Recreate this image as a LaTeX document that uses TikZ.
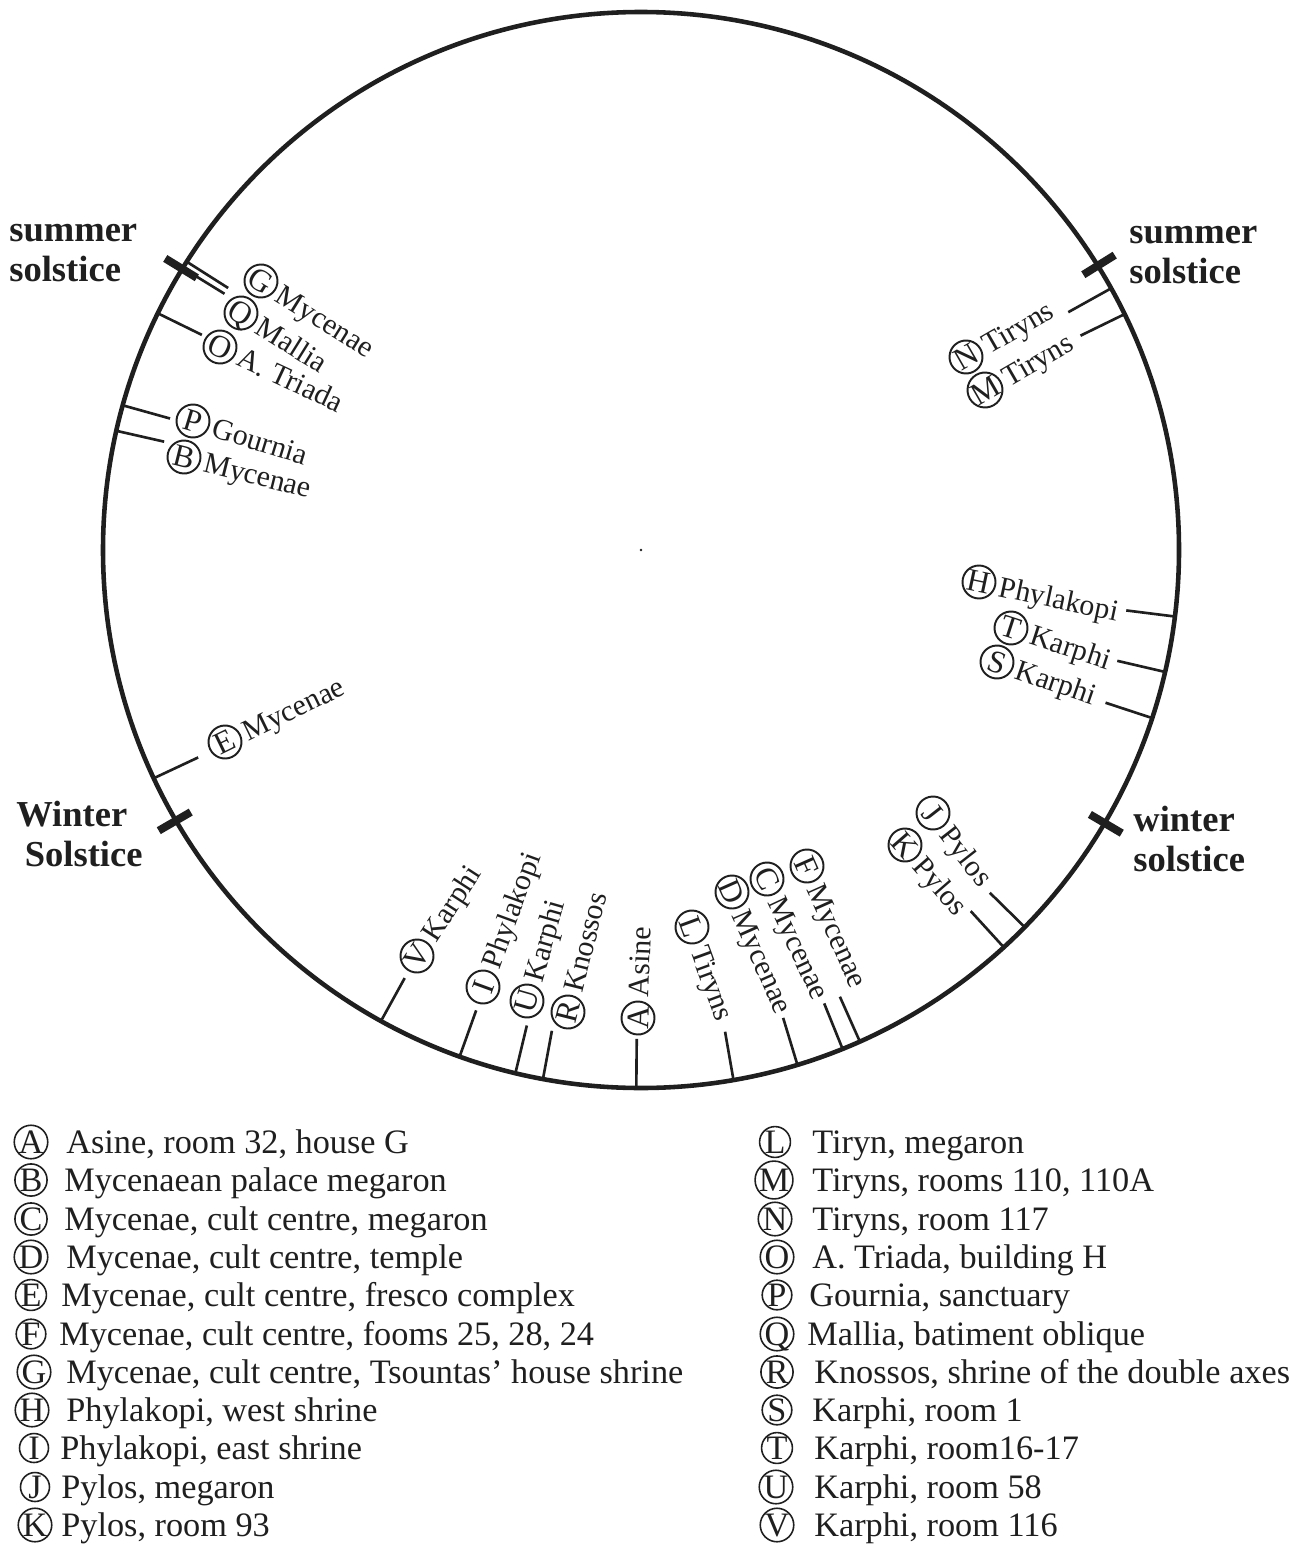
\documentclass[tikz,border=0pt]{standalone}
\usepackage{fontspec}
\setmainfont{Liberation Serif}
\usetikzlibrary{calc}

\newcommand{\dfont}{\fontsize{17}{20}\selectfont}
\newcommand{\cfont}{\fontsize{18}{20}\selectfont}
\newcommand{\lfont}{\fontsize{19.5}{22}\selectfont}
\newcommand{\sfont}{\fontsize{20.8}{22.7}\selectfont\bfseries}

\tikzstyle{dcirc}=[circle, draw, line width=1.1pt, minimum size=0.66cm, inner sep=0pt, font=\cfont, text height=11.9pt, text depth=0pt]
\tikzstyle{dlabel}=[anchor=west, inner sep=2pt, font=\dfont, text height=11.2pt, text depth=0pt]
\tikzstyle{lcirc}=[circle, draw, line width=0.9pt, minimum size=0.58cm, inner sep=0pt, font=\lfont, text height=12.9pt, text depth=0pt]
\tikzstyle{ltext}=[anchor=west, inner sep=0pt, font=\lfont, text height=12.9pt, text depth=0pt]
\tikzstyle{siteline}=[line width=1.5pt]
\tikzstyle{solbar}=[line width=4.5pt]
\tikzstyle{sol}=[font=\sfont, align=left, inner sep=0pt, anchor=base west]

\begin{document}
\begin{tikzpicture}[x=0.02cm, y=0.02cm, color=black!88]
\useasboundingbox (0,0) rectangle (1304,-1544);

\coordinate (C) at (641,-550);
\draw[line width=2.6pt] (C) circle (538);
\fill (C) circle (1.3);

% solstices
\draw[solbar] ($(C)+(148.5:521)$) -- ($(C)+(148.5:558)$);
\draw[solbar] ($(C)+(31.9:521)$) -- ($(C)+(31.9:558)$);
\draw[solbar] ($(C)+(329.5:521)$) -- ($(C)+(329.5:558)$);
\draw[solbar] ($(C)+(210.2:521)$) -- ($(C)+(210.2:558)$);
\node[sol] (sumL) at (9,-281) {summer\\solstice};
\node[sol] (sumR) at (1129,-283) {summer\\solstice};
\node[sol] (winL) at (16,-866) {Winter\\\hspace*{0.17cm}Solstice};
\node[sol] (winR) at (1133,-871) {winter\\solstice};

% sites on the circle
\draw[siteline] ($(C)+(147.6:538)$) coordinate (oG) -- ($(C)+(147.6:489)$) coordinate (iG);
\draw[siteline] ($(C)+(148.4:538)$) coordinate (oQ) -- ($(C)+(148.4:489)$) coordinate (iQ);
\draw[siteline] ($(C)+(153.9:538)$) coordinate (oO) -- ($(C)+(153.9:489)$) coordinate (iO);
\draw[siteline] ($(C)+(164.4:538)$) coordinate (oP) -- ($(C)+(164.4:489)$) coordinate (iP);
\draw[siteline] ($(C)+(167.2:538)$) coordinate (oB) -- ($(C)+(167.2:489)$) coordinate (iB);
\draw[siteline] ($(C)+(205.1:538)$) coordinate (oE) -- ($(C)+(205.1:489)$) coordinate (iE);
\draw[siteline] ($(C)+(241.1:538)$) coordinate (oV) -- ($(C)+(241.1:489)$) coordinate (iV);
\draw[siteline] ($(C)+(250.3:538)$) coordinate (oI) -- ($(C)+(250.3:489)$) coordinate (iI);
\draw[siteline] ($(C)+(256.5:538)$) coordinate (oU) -- ($(C)+(256.5:489)$) coordinate (iU);
\draw[siteline] ($(C)+(259.5:538)$) coordinate (oR) -- ($(C)+(259.5:489)$) coordinate (iR);
\draw[siteline] ($(C)+(269.5:538)$) coordinate (oA) -- ($(C)+(269.5:489)$) coordinate (iA);
\draw[siteline] ($(C)+(279.9:538)$) coordinate (oL) -- ($(C)+(279.9:489)$) coordinate (iL);
\draw[siteline] ($(C)+(286.9:538)$) coordinate (oD) -- ($(C)+(286.9:489)$) coordinate (iD);
\draw[siteline] ($(C)+(292:538)$) coordinate (oC) -- ($(C)+(292:489)$) coordinate (iC);
\draw[siteline] ($(C)+(294:538)$) coordinate (oF) -- ($(C)+(294:489)$) coordinate (iF);
\draw[siteline] ($(C)+(312.4:538)$) coordinate (oK) -- ($(C)+(312.4:489)$) coordinate (iK);
\draw[siteline] ($(C)+(315.5:538)$) coordinate (oJ) -- ($(C)+(315.5:489)$) coordinate (iJ);
\draw[siteline] ($(C)+(341.8:538)$) coordinate (oS) -- ($(C)+(341.8:489)$) coordinate (iS);
\draw[siteline] ($(C)+(346.9:538)$) coordinate (oT) -- ($(C)+(346.9:489)$) coordinate (iT);
\draw[siteline] ($(C)+(352.9:538)$) coordinate (oH) -- ($(C)+(352.9:489)$) coordinate (iH);
\draw[siteline] ($(C)+(26:538)$) coordinate (oM) -- ($(C)+(26:489)$) coordinate (iM);
\draw[siteline] ($(C)+(29.1:538)$) coordinate (oN) -- ($(C)+(29.1:489)$) coordinate (iN);

% labels
\node[dcirc, rotate=-32] (cG) at (261,-281) {G}; \node[dlabel, rotate=-32] (tG) at (cG.east) {Mycenae};
\node[dcirc, rotate=-32] (cQ) at (241,-313) {Q}; \node[dlabel, rotate=-32] (tQ) at (cQ.east) {Mallia};
\node[dcirc, rotate=-25] (cO) at (220,-347) {O}; \node[dlabel, rotate=-25] (tO) at (cO.east) {A. Triada};
\node[dcirc, rotate=-17] (cP) at (193,-421) {P}; \node[dlabel, rotate=-17] (tP) at (cP.east) {Gournia};
\node[dcirc, rotate=-14] (cB) at (184,-457) {B}; \node[dlabel, rotate=-14] (tB) at (cB.east) {Mycenae};
\node[dcirc, rotate=26] (cE) at (225,-742) {E}; \node[dlabel, rotate=26] (tE) at (cE.east) {Mycenae};
\node[dcirc, rotate=57] (cV) at (417,-956) {V}; \node[dlabel, rotate=57] (tV) at (cV.east) {Karphi};
\node[dcirc, rotate=70] (cI) at (483,-987) {I}; \node[dlabel, rotate=70] (tI) at (cI.east) {Phylakopi};
\node[dcirc, rotate=74] (cU) at (527,-1001) {U}; \node[dlabel, rotate=74] (tU) at (cU.east) {Karphi};
\node[dcirc, rotate=76] (cR) at (568,-1012) {R}; \node[dlabel, rotate=76] (tR) at (cR.east) {Knossos};
\node[dcirc, rotate=88] (cA) at (638,-1018) {A}; \node[dlabel, rotate=88] (tA) at (cA.east) {Asine};
\node[dcirc, rotate=-70] (cL) at (692,-927) {L}; \node[dlabel, rotate=-70] (tL) at (cL.east) {Tiryns};
\node[dcirc, rotate=-66] (cD) at (732,-892) {D}; \node[dlabel, rotate=-66] (tD) at (cD.east) {Mycenae};
\node[dcirc, rotate=-65] (cC) at (767,-879) {C}; \node[dlabel, rotate=-65] (tC) at (cC.east) {Mycenae};
\node[dcirc, rotate=-66] (cF) at (807,-866) {F}; \node[dlabel, rotate=-66] (tF) at (cF.east) {Mycenae};
\node[dcirc, rotate=-52] (cJ) at (933,-813) {J}; \node[dlabel, rotate=-52] (tJ) at (cJ.east) {Pylos};
\node[dcirc, rotate=-49] (cK) at (905,-845) {K}; \node[dlabel, rotate=-49] (tK) at (cK.east) {Pylos};
\node[dcirc, rotate=-12] (cH) at (979,-582) {H}; \node[dlabel, rotate=-12] (tH) at (cH.east) {Phylakopi};
\node[dcirc, rotate=-18] (cT) at (1011,-628) {T}; \node[dlabel, rotate=-18] (tT) at (cT.east) {Karphi};
\node[dcirc, rotate=-19] (cS) at (997,-662) {S}; \node[dlabel, rotate=-19] (tS) at (cS.east) {Karphi};
\node[dcirc, rotate=30] (cN) at (966,-357) {N}; \node[dlabel, rotate=30] (tN) at (cN.east) {Tiryns};
\node[dcirc, rotate=30] (cM) at (985,-390) {M}; \node[dlabel, rotate=30] (tM) at (cM.east) {Tiryns};

% legend
\node[lcirc] (lA) at (31,-1142) {A}; \node[ltext] (dA) at (66,-1142) {Asine, room 32, house G};
\node[lcirc] (lB) at (31,-1180) {B}; \node[ltext] (dB) at (64,-1180) {Mycenaean palace megaron};
\node[lcirc] (lC) at (31,-1219) {C}; \node[ltext] (dC) at (64,-1219) {Mycenae, cult centre, megaron};
\node[lcirc] (lD) at (31,-1257) {D}; \node[ltext] (dD) at (66,-1257) {Mycenae, cult centre, temple};
\node[lcirc] (lE) at (31,-1295) {E}; \node[ltext] (dE) at (61,-1295) {Mycenae, cult centre, fresco complex};
\node[lcirc] (lF) at (31,-1334) {F}; \node[ltext] (dF) at (59,-1334) {Mycenae, cult centre, fooms 25, 28, 24};
\node[lcirc] (lG) at (34,-1372) {G}; \node[ltext] (dG) at (66,-1372) {Mycenae, cult centre, Tsountas’ house shrine};
\node[lcirc] (lH) at (32,-1410) {H}; \node[ltext] (dH) at (66,-1410) {Phylakopi, west shrine};
\node[lcirc] (lI) at (34,-1448) {I}; \node[ltext] (dI) at (60,-1448) {Phylakopi, east shrine};
\node[lcirc] (lJ) at (35,-1487) {J}; \node[ltext] (dJ) at (61,-1487) {Pylos, megaron};
\node[lcirc] (lK) at (35,-1525) {K}; \node[ltext] (dK) at (61,-1525) {Pylos, room 93};

\node[lcirc] (lL) at (775,-1142) {L}; \node[ltext] (dL) at (812,-1142) {Tiryn, megaron};
\node[lcirc] (lM) at (774,-1180) {M}; \node[ltext] (dM) at (812,-1180) {Tiryns, rooms 110, 110A};
\node[lcirc] (lN) at (775,-1219) {N}; \node[ltext] (dN) at (812,-1219) {Tiryns, room 117};
\node[lcirc] (lO) at (777,-1257) {O}; \node[ltext] (dO) at (812,-1257) {A. Triada, building H};
\node[lcirc] (lP) at (777,-1295) {P}; \node[ltext] (dP) at (809,-1295) {Gournia, sanctuary};
\node[lcirc] (lQ) at (777,-1334) {Q}; \node[ltext] (dQ) at (807,-1334) {Mallia, batiment oblique};
\node[lcirc] (lR) at (777,-1372) {R}; \node[ltext] (dR) at (814,-1372) {Knossos, shrine of the double axes};
\node[lcirc] (lS) at (777,-1410) {S}; \node[ltext] (dS) at (812,-1410) {Karphi, room 1};
\node[lcirc] (lT) at (777,-1448) {T}; \node[ltext] (dT) at (814,-1448) {Karphi, room16-17};
\node[lcirc] (lU) at (776,-1487) {U}; \node[ltext] (dU) at (814,-1487) {Karphi, room 58};
\node[lcirc] (lV) at (777,-1525) {V}; \node[ltext] (dV) at (814,-1525) {Karphi, room 116};
\end{tikzpicture}
\end{document}
